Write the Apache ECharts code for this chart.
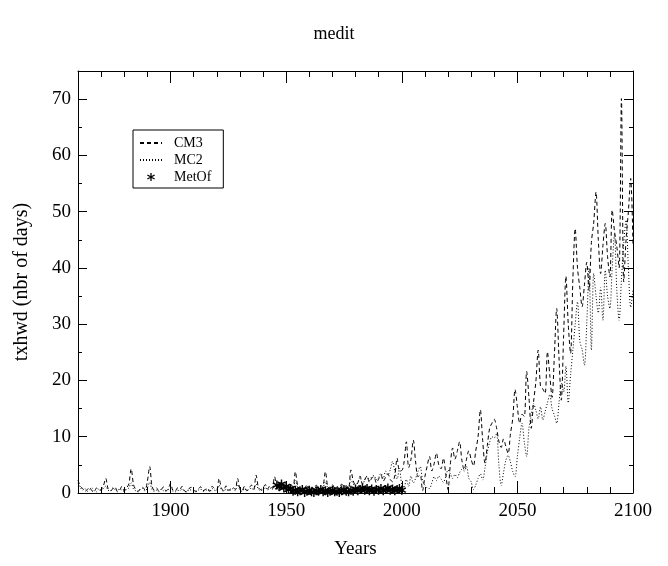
<!DOCTYPE html>
<html>
<head>
<meta charset="utf-8">
<script src="https://cdn.jsdelivr.net/npm/echarts@6/dist/echarts.min.js"></script>
<style>
  html, body { margin: 0; padding: 0; background: #fff; }
  #chart { width: 668px; height: 566px; }
</style>
</head>
<body>
<div id="chart"></div>
<script>
// Annual txhwd counts (number of days), Mediterranean region
const FIRST_YEAR = 1860;          // first year of the model runs
const METOF_FIRST_YEAR = 1946;    // first year of the observations

const cm3 = [
  2.3, 1.2, 0.8, 0.3, 0.6, 1.0, 0.4, 0.2, 0.9, 0.5,
  0.6, 1.3, 2.6, 0.8, 0.4, 0.7, 1.1, 0.3, 0.5, 1.2,
  0.4, 0.9, 1.6, 4.3, 1.5, 0.6, 0.3, 0.8, 1.0, 0.5,
  2.1, 4.7, 1.2, 0.5, 0.9, 0.3, 0.6, 1.1, 0.4, 0.7,
  1.7, 0.5, 0.3, 0.9, 0.6, 1.2, 0.4, 0.2, 0.8, 1.0,
  0.5, 0.3, 0.7, 1.1, 0.4, 0.6, 0.9, 0.3, 1.2, 0.8,
  0.6, 2.6, 0.9, 0.4, 1.3, 0.5, 0.7, 1.0, 0.6, 2.6,
  0.8, 0.5, 1.2, 0.4, 0.9, 1.4, 0.7, 3.2, 1.0, 0.6,
  0.9, 1.5, 0.7, 1.3, 0.8, 2.9, 1.1, 0.6, 1.4, 0.9,
  1.2, 0.8, 1.6, 1.0, 3.8, 1.3, 0.7, 1.1, 0.9, 1.5,
  0.8, 1.2, 0.6, 1.4, 1.0, 0.7, 1.3, 3.8, 1.1, 0.8,
  1.5, 0.9, 1.2, 0.7, 1.6, 1.0, 1.3, 0.9, 4.1, 2.2,
  1.4, 1.8, 3.0, 1.6, 2.4, 3.0, 1.9, 2.6, 2.9, 1.8,
  2.5, 3.2, 2.1, 2.8, 3.4, 2.4, 2.0, 3.1, 6.2, 4.0,
  4.0, 5.5, 9.1, 4.5, 6.0, 9.4, 5.5, 2.9, 3.2, 0.4,
  2.9, 4.8, 6.5, 3.9, 5.2, 7.1, 5.0, 4.3, 6.2, 3.5,
  0.6, 5.1, 8.0, 6.0, 7.4, 9.1, 5.8, 4.1, 6.0, 7.5,
  6.0, 4.8, 7.5, 10.0, 14.8, 9.3, 5.3, 8.4, 11.5, 12.4,
  13.1, 11.6, 9.2, 8.1, 9.6, 8.3, 7.0, 10.5, 13.2, 18.4,
  15.3, 12.4, 14.0, 13.6, 21.6, 17.0, 11.5, 16.2, 19.8, 25.4,
  19.0, 18.5, 17.7, 25.1, 21.0, 17.0, 24.5, 32.8, 24.0, 16.5,
  28.0, 38.5, 30.0, 24.8, 38.0, 47.0, 40.0, 36.5, 33.1, 37.0,
  41.0, 36.0, 44.5, 48.0, 53.5, 45.0, 39.0, 44.0, 47.9, 42.0,
  38.4, 50.3, 46.5, 43.8, 40.0, 70.1, 37.5, 45.0, 50.0, 55.9,
  44.0
];

const mc2 = [
  1.8, 1.0, 0.5, 0.8, 0.3, 0.6, 0.9, 0.4, 0.2, 0.7,
  0.4, 0.8, 1.2, 0.5, 0.3, 0.9, 0.6, 0.2, 0.8, 0.5,
  0.3, 0.6, 0.9, 1.8, 0.7, 0.4, 0.2, 0.6, 0.8, 0.3,
  0.9, 1.9, 0.6, 0.3, 0.5, 0.2, 0.7, 0.4, 0.3, 0.6,
  0.8, 0.3, 0.2, 0.5, 0.4, 0.7, 0.3, 0.2, 0.6, 0.5,
  0.3, 0.2, 0.5, 0.7, 0.3, 0.4, 0.6, 0.2, 0.8, 0.5,
  0.4, 1.4, 0.6, 0.3, 0.7, 0.4, 0.5, 0.8, 0.4, 1.5,
  0.5, 0.3, 0.8, 0.4, 0.6, 0.9, 0.5, 1.6, 0.7, 0.4,
  0.6, 1.0, 0.5, 0.9, 0.6, 1.8, 0.8, 0.5, 1.0, 0.7,
  0.9, 0.6, 1.1, 0.8, 2.2, 1.0, 0.6, 0.9, 0.7, 1.2,
  0.7, 1.0, 0.5, 1.1, 0.8, 0.6, 1.0, 2.0, 0.9, 0.7,
  1.2, 0.8, 1.0, 0.6, 1.3, 0.9, 1.1, 0.8, 2.4, 1.6,
  1.2, 1.9, 2.8, 1.5, 2.3, 3.0, 2.2, 2.9, 3.1, 2.4,
  2.8, 3.5, 2.6, 3.9, 3.2, 4.1, 5.6, 3.8, 2.5, 4.4,
  1.5, 1.0, 2.4, 1.2, 3.0, 1.8, 2.6, 3.8, 4.7, 2.2,
  1.4, 0.9, 0.8, 1.8, 2.9, 2.2, 3.0, 2.5, 1.9, 2.9,
  4.1, 3.4, 2.6, 3.3, 2.7, 3.6, 4.2, 3.9, 4.7, 2.6,
  2.0, 0.6, 1.4, 2.6, 3.4, 2.3, 4.5, 7.2, 9.0, 10.0,
  9.8, 10.6, 5.0, 1.3, 3.6, 5.8, 6.7, 5.5, 3.8, 2.9,
  6.5, 9.8, 12.4, 9.0, 6.5, 11.5, 13.8, 15.9, 14.7, 13.2,
  15.3, 13.0, 14.5, 16.0, 17.5, 15.0, 13.8, 12.4, 16.0, 19.5,
  18.0, 22.5, 16.0, 21.0, 25.4, 30.0, 34.0, 27.0, 25.5, 22.7,
  30.0, 40.0, 25.4, 39.0, 35.0, 32.0, 36.5, 30.7, 39.6, 35.0,
  32.8, 40.0, 46.0, 36.0, 30.7, 38.0, 44.5, 48.5, 40.0, 33.0,
  36.0
];

const metof = [
  1.4, 1.1, 1.6, 0.9, 1.2, 0.6, 0.8, 0.3, 0.5, 0.2,
  0.4, 0.6, 0.1, 0.3, 0.5, 0.2, 0.1, 0.4, 0.3, 0.6,
  0.2, 0.4, 0.1, 0.3, 0.5, 0.2, 0.3, 0.1, 0.4, 0.6,
  0.3, 0.2, 0.5, 0.3, 0.7, 0.4, 0.6, 0.9, 0.5, 0.8,
  0.4, 0.7, 0.3, 0.6, 0.5, 0.8, 0.4, 0.6, 0.9, 0.5,
  0.7, 0.4, 0.6, 0.8, 0.5
];

const xTickLabels = [1900, 1950, 2000, 2050, 2100];
const yTickLabels = [0, 10, 20, 30, 40, 50, 60, 70];

function toPairs(start, values) {
  return values.map((v, i) => [start + i, v]);
}

const FONT = '"Liberation Serif", "DejaVu Serif", serif';
// six-armed asterisk built from three bars
const ASTERISK = 'path://M58 0L58 100L42 100L42 0Z' +
  'M0.7 32.1L8.7 18.3L99.3 67.9L91.3 81.7Z' +
  'M91.3 18.3L99.3 32.1L8.7 81.7L0.7 67.9Z';

const X_MIN = 1860, X_MAX = 2100, Y_MIN = 0, Y_MAX = 75;

function xAxisDef(position, major, extra) {
  return Object.assign({
    type: 'value',
    position: position,
    min: X_MIN, max: X_MAX, interval: 10,
    axisLine: { show: !major, onZero: false, lineStyle: { color: '#000', width: 1 } },
    axisTick: major
      ? { show: true, inside: true, length: 12, customValues: xTickLabels, lineStyle: { color: '#000', width: 1 } }
      : { show: true, inside: true, length: 6, lineStyle: { color: '#000', width: 1 } },
    axisLabel: { show: false },
    splitLine: { show: false }
  }, extra || {});
}

function yAxisDef(position, major, extra) {
  return Object.assign({
    type: 'value',
    position: position,
    min: Y_MIN, max: Y_MAX, interval: 5,
    axisLine: { show: !major, onZero: false, lineStyle: { color: '#000', width: 1 } },
    axisTick: major
      ? { show: true, inside: true, length: 9, customValues: yTickLabels, lineStyle: { color: '#000', width: 1 } }
      : { show: true, inside: true, length: 4, lineStyle: { color: '#000', width: 1 } },
    axisLabel: { show: false },
    splitLine: { show: false }
  }, extra || {});
}

const chart = echarts.init(document.getElementById('chart'), null, { renderer: 'canvas' });

chart.setOption({
  animation: false,
  backgroundColor: '#fff',
  title: {
    text: 'medit',
    left: 'center',
    top: 20,
    textStyle: { fontFamily: FONT, fontSize: 18, fontWeight: 'normal', color: '#000' }
  },
  legend: {
    orient: 'vertical',
    left: 133,
    top: 130,
    data: [
      { name: 'CM3', itemStyle: { opacity: 0 } },
      { name: 'MC2', itemStyle: { opacity: 0 } },
      { name: 'MetOf' }
    ],
    itemWidth: 22,
    itemHeight: 8,
    itemGap: 3,
    padding: [6, 12, 4, 6],
    borderColor: '#000',
    borderWidth: 1,
    borderRadius: 0,
    textStyle: { fontFamily: FONT, fontSize: 14, color: '#000', padding: [0, 0, 0, 7] }
  },
  grid: { left: 78, right: 35, top: 71, bottom: 73, containLabel: false },
  xAxis: [
    xAxisDef('bottom', false, {
      name: 'Years',
      nameLocation: 'middle',
      nameGap: 47,
      nameTextStyle: { fontFamily: FONT, fontSize: 19, color: '#000' },
      axisLabel: {
        show: true,
        customValues: xTickLabels,
        formatter: (v) => String(v),
        margin: 9,
        fontFamily: FONT, fontSize: 19, color: '#000'
      }
    }),
    xAxisDef('bottom', true),
    xAxisDef('top', false),
    xAxisDef('top', true)
  ],
  yAxis: [
    yAxisDef('left', false, {
      name: 'txhwd (nbr of days)',
      nameLocation: 'middle',
      nameGap: 46,
      nameTextStyle: { fontFamily: FONT, fontSize: 20, color: '#000' },
      axisLabel: {
        show: true,
        customValues: yTickLabels,
        formatter: (v) => String(v),
        margin: 7,
        fontFamily: FONT, fontSize: 19, color: '#000'
      }
    }),
    yAxisDef('left', true),
    yAxisDef('right', false),
    yAxisDef('right', true)
  ],
  series: [
    {
      name: 'MC2',
      type: 'line',
      xAxisIndex: 0, yAxisIndex: 0,
      data: toPairs(FIRST_YEAR, mc2),
      symbol: 'none',
      showSymbol: false,
      smooth: 0.3,
      clip: true,
      lineStyle: { color: '#000', width: 1, type: [1, 2] },
      itemStyle: { color: '#000' }
    },
    {
      name: 'CM3',
      type: 'line',
      xAxisIndex: 0, yAxisIndex: 0,
      data: toPairs(FIRST_YEAR, cm3),
      symbol: 'none',
      showSymbol: false,
      smooth: 0.3,
      clip: true,
      lineStyle: { color: '#000', width: 1, type: [4, 3] },
      itemStyle: { color: '#000' }
    },
    {
      name: 'MetOf',
      type: 'scatter',
      xAxisIndex: 0, yAxisIndex: 0,
      data: toPairs(METOF_FIRST_YEAR, metof),
      symbol: ASTERISK,
      symbolSize: 9,
      symbolKeepAspect: true,
      itemStyle: { color: '#000', opacity: 1 },
      z: 5
    }
  ]
});
</script>
</body>
</html>
